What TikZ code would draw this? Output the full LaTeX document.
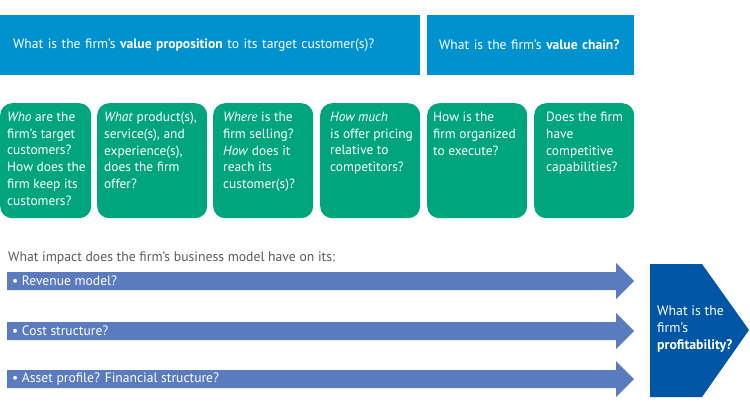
\documentclass[tikz,border=0pt]{standalone}
\usepackage{fontspec}
\setmainfont{PT Sans}
\definecolor{topblue}{HTML}{0092CF}
\definecolor{boxgreen}{HTML}{00A57D}
\definecolor{barblue}{HTML}{5B7BBF}
\definecolor{darkblue}{HTML}{0056A4}
\definecolor{greytext}{HTML}{5A5A5A}
\begin{document}
\begin{tikzpicture}[x=1pt,y=-1pt,
  topbox/.style={fill=topblue, draw=none, anchor=north west, minimum height=60pt,
    inner xsep=13pt, align=left, text=white, font=\fontsize{13.6}{16}\selectfont},
  greenbox/.style={fill=boxgreen, draw=none, rounded corners=12pt, anchor=north west,
    minimum height=115pt},
  greentext/.style={anchor=north west, inner sep=0pt, align=left, text=white,
    font=\fontsize{13.4}{16.7}\selectfont},
  bartext/.style={anchor=west, inner sep=0pt, text=white, font=\fontsize{13.6}{16}\selectfont},
  barshape/.style={fill=barblue, draw=none}
]
\useasboundingbox (0,0) rectangle (750,413);

% top boxes
\node[topbox, minimum width=420pt, text width=394pt] (vp) at (0,15)
  {What is the firm's \textbf{value proposition} to its target customer(s)?};
\node[topbox, minimum width=207pt, text width=183pt, inner xsep=12pt] (vc) at (427,15)
  {What is the firm's \textbf{value chain?}};

% green boxes
\node[greenbox, minimum width=91pt] (g1) at (0,103) {};
\node[greenbox, minimum width=110pt] (g2) at (97,103) {};
\node[greenbox, minimum width=100pt] (g3) at (213,103) {};
\node[greenbox, minimum width=100pt] (g4) at (320,103) {};
\node[greenbox, minimum width=100pt] (g5) at (427,103) {};
\node[greenbox, minimum width=100pt] (g6) at (534,103) {};

\node[greentext] (t1) at (7,112) {\textit{Who} are the\\firm's target\\customers?\\How does the\\firm keep its\\customers?};
\node[greentext] (t2) at (104,112) {\textit{What} product(s),\\service(s), and\\experience(s),\\does the firm\\offer?};
\node[greentext] (t3) at (223,112) {\textit{Where} is the\\firm selling?\\\textit{How} does it\\reach its\\customer(s)?};
\node[greentext] (t4) at (330,112) {\textit{How much}\\is offer pricing\\relative to\\competitors?};
\node[greentext] (t5) at (433,112) {How is the\\firm organized\\to execute?};
\node[greentext] (t6) at (546,112) {Does the firm\\have\\competitive\\capabilities?};

% heading
\node[anchor=west, inner sep=0pt, text=greytext, font=\fontsize{13.7}{16}\selectfont] (imp) at (8,258)
  {What impact does the firm's business model have on its:};

% arrows
\fill[barshape] (7,272) -- (616,272) -- (616,263) -- (634,281) -- (616,299) -- (616,290) -- (7,290) -- cycle;
\fill[barshape] (7,322) -- (616,322) -- (616,313) -- (634,331) -- (616,349) -- (616,340) -- (7,340) -- cycle;
\fill[barshape] (7,370) -- (616,370) -- (616,361) -- (634,379) -- (616,397) -- (616,388) -- (7,388) -- cycle;
\node[bartext] (b1) at (12,281) {• Revenue model?};
\node[bartext] (b2) at (12,331) {• Cost structure?};
\node[bartext] (b3) at (12,379) {• Asset profile? Financial structure?};

% pentagon
\fill[darkblue] (650,264) -- (702,264) -- (749,330) -- (702,397) -- (650,397) -- cycle;
\node[anchor=west, inner sep=0pt, align=left, text=white, font=\fontsize{13.8}{17}\selectfont] (pr) at (657,329)
  {What is the\\firm's\\\textbf{profitability?}};
\end{tikzpicture}
\end{document}
